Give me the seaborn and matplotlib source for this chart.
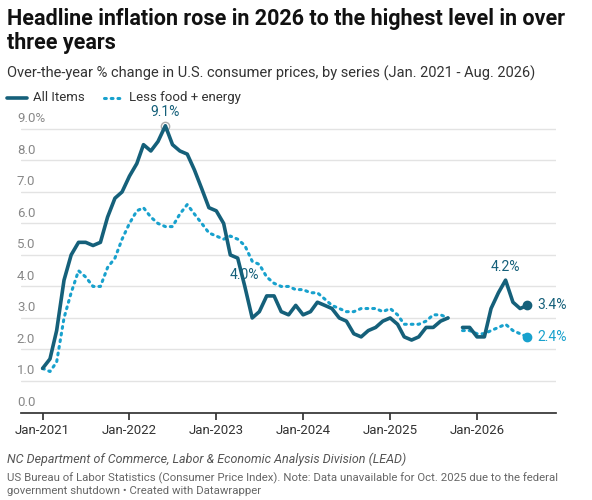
import numpy as np
import pandas as pd
import seaborn as sns
import matplotlib.pyplot as plt
import matplotlib.dates as mdates

# monthly values, Jan 2021 - Aug 2026 (Oct 2025 missing)
all_items = [1.4, 1.7, 2.6, 4.2, 5.0, 5.4, 5.4, 5.3, 5.4, 6.2, 6.8, 7.0,
             7.5, 7.9, 8.5, 8.3, 8.6, 9.1, 8.5, 8.3, 8.2, 7.7, 7.1, 6.5,
             6.4, 6.0, 5.0, 4.9, 4.0, 3.0, 3.2, 3.7, 3.7, 3.2, 3.1, 3.4,
             3.1, 3.2, 3.5, 3.4, 3.3, 3.0, 2.9, 2.5, 2.4, 2.6, 2.7, 2.9,
             3.0, 2.8, 2.4, 2.3, 2.4, 2.7, 2.7, 2.9, 3.0, np.nan, 2.7, 2.7,
             2.4, 2.4, 3.3, 3.8, 4.2, 3.5, 3.3, 3.4]
core = [1.4, 1.3, 1.6, 3.0, 3.8, 4.5, 4.3, 4.0, 4.0, 4.6, 4.9, 5.5,
        6.0, 6.4, 6.5, 6.2, 6.0, 5.9, 5.9, 6.3, 6.6, 6.3, 6.0, 5.7,
        5.6, 5.5, 5.6, 5.5, 5.3, 4.8, 4.7, 4.3, 4.1, 4.0, 4.0, 3.9,
        3.9, 3.8, 3.8, 3.6, 3.4, 3.3, 3.2, 3.2, 3.3, 3.3, 3.3, 3.2,
        3.3, 3.1, 2.8, 2.8, 2.8, 2.9, 3.1, 3.1, 3.0, np.nan, 2.6, 2.6,
        2.5, 2.5, 2.6, 2.7, 2.8, 2.6, 2.5, 2.4]
months = pd.date_range("2021-01-01", periods=len(all_items), freq="MS")
df = pd.DataFrame({"date": months, "All Items": all_items, "Less food + energy": core})

dark = "#15607a"
light = "#18a1cd"
grey = "#333333"

sns.set_theme(style="white")
plt.rcParams['font.family'] = ['Roboto', 'DejaVu Sans']

fig = plt.figure(figsize=(5.92, 5.0), dpi=100)
ax = fig.add_axes([0.035, 0.175, 0.905, 0.605])

# plain ax.plot keeps the NaN gap for Oct 2025
ax.plot(df["date"], df["Less food + energy"], color=light, lw=2.2,
        linestyle=(0, (0.6, 1.6)), dash_capstyle="round")
ax.plot(df["date"], df["All Items"], color=dark, lw=2.6)

last = df.iloc[-1]
ax.plot(last["date"], last["All Items"], "o", color=dark, ms=6)
ax.plot(last["date"], last["Less food + energy"], "o", color=light, ms=6)
ax.text(last["date"] + pd.Timedelta(days=40), last["All Items"], "3.4%", color=dark, fontsize=10, va="center")
ax.text(last["date"] + pd.Timedelta(days=40), last["Less food + energy"], "2.4%", color=light, fontsize=10, va="center")

pk = df["All Items"].idxmax()
ax.plot(df.loc[pk, "date"], df.loc[pk, "All Items"], "o", mfc="white", mec="#aaaaaa", ms=6, zorder=1)
ax.text(df.loc[pk, "date"], 9.3, "9.1%", color=dark, fontsize=10, ha="center", va="bottom")
ax.text(df.loc[28, "date"], 4.15, "4.0%", color=dark, fontsize=10, ha="center", va="bottom")
ax.text(df.loc[64, "date"], 4.4, "4.2%", color=dark, fontsize=10, ha="center", va="bottom")

ax.set_ylim(0, 9.6)
ax.set_xlim(pd.Timestamp("2020-10-01"), pd.Timestamp("2026-12-01"))
for v in range(10):
    ax.axhline(v, color="#e3e3e3", lw=1, zorder=0)
    ax.text(pd.Timestamp("2020-09-15"), v + 0.12, f"{v}.0%" if v == 9 else f"{v}.0",
            color="#888888", fontsize=9.5, va="bottom", ha="left")
ax.set_yticks([])
ax.set_ylabel("")
ax.set_xlabel("")
ax.xaxis.set_major_locator(mdates.YearLocator())
ax.xaxis.set_major_formatter(mdates.DateFormatter("Jan-%Y"))
ax.tick_params(axis="x", length=5, color=grey, labelsize=9.5, labelcolor=grey, bottom=True)
sns.despine(ax=ax, left=True)
ax.spines["bottom"].set_color(grey)

fig.text(0.012, 0.985, "Headline inflation rose in 2026 to the highest level in over\nthree years",
         fontsize=15.5, fontweight="bold", va="top", color="#111111", linespacing=1.15)
fig.text(0.012, 0.868, "Over-the-year % change in U.S. consumer prices, by series (Jan. 2021 - Aug. 2026)",
         fontsize=10.5, va="top", color=grey)
fig.lines.append(plt.Line2D([0.012, 0.045], [0.805, 0.805], color=dark, lw=2.6, transform=fig.transFigure))
fig.text(0.055, 0.805, "All Items", fontsize=9.5, va="center", color=grey)
fig.lines.append(plt.Line2D([0.175, 0.21], [0.805, 0.805], color=light, lw=2.2, linestyle=(0, (0.6, 1.6)),
                            dash_capstyle="round", transform=fig.transFigure))
fig.text(0.218, 0.805, "Less food + energy", fontsize=9.5, va="center", color=grey)

fig.text(0.012, 0.095, "NC Department of Commerce, Labor & Economic Analysis Division (LEAD)",
         fontsize=9, style="italic", color="#555555", va="top")
fig.text(0.012, 0.055, "US Bureau of Labor Statistics (Consumer Price Index). Note: Data unavailable for Oct. 2025 due to the federal\ngovernment shutdown • Created with Datawrapper",
         fontsize=8.2, color="#666666", va="top", linespacing=1.3)

fig.savefig("out.png", dpi=100)
